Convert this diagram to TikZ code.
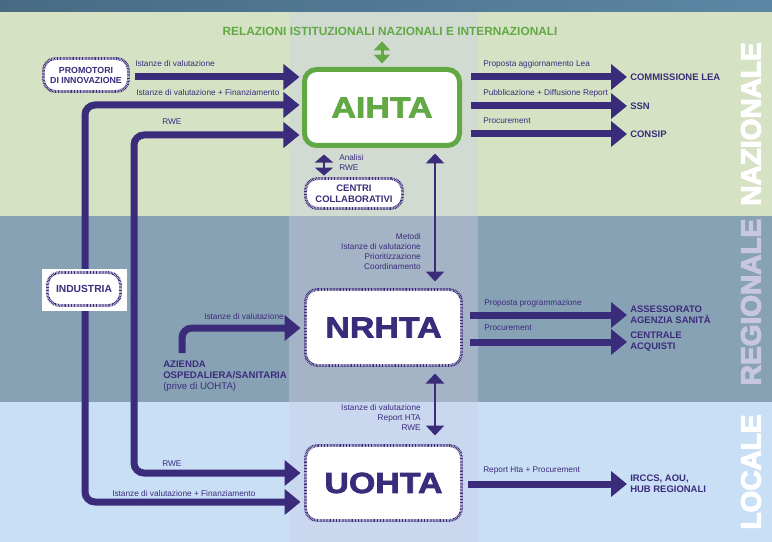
\documentclass[tikz,border=0pt]{standalone}
\usepackage{fontspec}
\setmainfont{Liberation Sans}
\newfontfamily\widefont[FakeStretch=1.17, FakeBold=2.5]{Liberation Sans}
\newfontfamily\heavyfont[FakeBold=4]{Liberation Sans}
\usetikzlibrary{arrows.meta}
\definecolor{pur}{RGB}{59,43,123}
\definecolor{grn}{RGB}{98,168,69}
\definecolor{topL}{RGB}{72,107,131}
\definecolor{topR}{RGB}{91,135,164}
\definecolor{nazB}{RGB}{213,227,196}
\definecolor{nazC}{RGB}{210,219,210}
\definecolor{regB}{RGB}{136,162,181}
\definecolor{regC}{RGB}{164,179,198}
\definecolor{locB}{RGB}{200,223,245}
\definecolor{locC}{RGB}{202,216,239}
\definecolor{regT}{RGB}{200,198,224}
\begin{document}
\begin{tikzpicture}[x=0.75pt,y=-0.75pt,
  small/.style={font=\fontsize{6.2pt}{7.5pt}\selectfont, text=pur, inner sep=0pt},
  tgt/.style={font=\bfseries\fontsize{7.1pt}{8.25pt}\selectfont, text=pur, align=left, anchor=west, inner sep=0pt},
  dotbox/.style={draw=pur, line width=2.2pt, dash pattern=on 0.55pt off 0.55pt, fill=white, rounded corners=9pt, inner sep=0pt, text=pur, align=center},
  bigtext/.style={font=\widefont\bfseries\fontsize{21.75pt}{24pt}\selectfont},
  bigarrow/.style={draw=pur, line width=5.25pt, -{Triangle[width=18.75pt,length=12pt]}},
  dbl/.style={draw=pur, line width=2.1pt, {Triangle[width=13.5pt,length=7.5pt]}-{Triangle[width=13.5pt,length=7.5pt]}},
  grndbl/.style={draw=grn, line width=2.25pt, {Triangle[width=12pt,length=6.75pt]}-{Triangle[width=12pt,length=6.75pt]}},
  sidelab/.style={rotate=90, font=\heavyfont\bfseries\fontsize{21pt}{21pt}\selectfont, inner sep=0pt}
]
\useasboundingbox (0,0) rectangle (772,542);
% bands
\fill[left color=topL,right color=topR] (0,0) rectangle (772,12);
\fill[nazB] (0,12) rectangle (772,216);
\fill[regB] (0,216) rectangle (772,402);
\fill[locB] (0,402) rectangle (772,542);
\fill[nazC] (289,12) rectangle (478,216);
\fill[regC] (289,216) rectangle (478,402);
\fill[locC] (289,402) rectangle (478,542);

% side labels
\node[sidelab, text=white] (naz) at (751,124) {NAZIONALE};
\node[sidelab, text=regT] (reg) at (751,302) {REGIONALE};
\node[sidelab, text=white] (loc) at (751,472) {LOCALE};

% title
\node[anchor=base, font=\bfseries\fontsize{8.9pt}{10pt}\selectfont, text=grn, inner sep=0pt] (title) at (390,36) {RELAZIONI ISTITUZIONALI NAZIONALI E INTERNAZIONALI};

% main boxes
\node[draw=grn, line width=3.75pt, rounded corners=9pt, fill=white, minimum width=116.25pt, minimum height=57pt, inner sep=0pt, text=grn, bigtext] (aihta) at (382,107.5) {AIHTA};
\node[dotbox, minimum width=117pt, minimum height=57pt, bigtext] (nrhta) at (383.5,327.5) {NRHTA};
\node[dotbox, minimum width=117pt, minimum height=56.25pt, bigtext] (uohta) at (383.5,483) {UOHTA};

% small boxes
\node[dotbox, minimum width=63.75pt, minimum height=24.75pt, font=\bfseries\fontsize{6.6pt}{7.5pt}\selectfont] (promo) at (86,75) {PROMOTORI\\DI INNOVAZIONE};
\node[dotbox, minimum width=72.75pt, minimum height=22.5pt, font=\bfseries\fontsize{7.1pt}{8pt}\selectfont] (centri) at (354,193.5) {CENTRI\\COLLABORATIVI};

% targets
\node[tgt] (lea) at (630,77) {COMMISSIONE LEA};
\node[tgt] (ssn) at (630,106) {SSN};
\node[tgt] (consip) at (630,134) {CONSIP};
\node[tgt] (assess) at (630,315) {ASSESSORATO\\AGENZIA SANITÀ};
\node[tgt] (centrale) at (630,342) {CENTRALE\\ACQUISTI};
\node[tgt] (irccs) at (630,484) {IRCCS, AOU,\\HUB REGIONALI};

% azienda
\node[anchor=north west, inner sep=0pt, align=left, text=pur, font=\fontsize{7.2pt}{8.25pt}\selectfont] (azienda) at (163,361) {\textbf{AZIENDA}\\\textbf{OSPEDALIERA/SANITARIA}\\(prive di UOHTA)};
\coordinate (az) at (182,353);

% left network coordinates
\coordinate (indc) at (85,290);
\coordinate (rwe) at (134,300);

% left arrows
\draw[bigarrow, shorten <=3.4pt, shorten >=1.9pt] (promo.east |- 0,77) -- (aihta.west |- 0,77);
\draw[bigarrow, rounded corners=7.5pt, shorten >=1.9pt] (indc) |- (aihta.west |- 0,105);
\draw[bigarrow, rounded corners=7.5pt, shorten >=2.6pt] (indc) |- (uohta.west |- 0,502);
\draw[bigarrow, rounded corners=7.5pt, shorten >=1.9pt] (rwe) |- (aihta.west |- 0,135);
\draw[bigarrow, rounded corners=7.5pt, shorten >=2.6pt] (rwe) |- (uohta.west |- 0,473);
\draw[bigarrow, rounded corners=7.5pt, shorten >=2.6pt] (az) |- (nrhta.west |- 0,328);

% industria
\node[fill=white, minimum width=63.75pt, minimum height=31.5pt, inner sep=0pt] (indbg) at (84.5,290) {};
\node[dotbox, minimum width=54.75pt, minimum height=24.75pt, font=\bfseries\fontsize{7.7pt}{8.5pt}\selectfont] (industria) at (84,289) {INDUSTRIA};

% right arrows
\draw[bigarrow, shorten <=6.4pt, shorten >=2.25pt] (aihta.east |- lea.west) -- (lea.west);
\draw[bigarrow, shorten <=6.4pt, shorten >=2.25pt] (aihta.east |- ssn.west) -- (ssn.west);
\draw[bigarrow, shorten <=6.4pt, shorten >=2.25pt] (aihta.east |- consip.west) -- (consip.west);
\draw[bigarrow, shorten <=4.9pt, shorten >=2.25pt] (nrhta.east |- assess.west) -- (assess.west);
\draw[bigarrow, shorten <=4.9pt, shorten >=2.25pt] (nrhta.east |- centrale.west) -- (centrale.west);
\draw[bigarrow, shorten <=4.1pt, shorten >=2.25pt] (uohta.east |- irccs.west) -- (irccs.west);

% vertical double arrows
\draw[grndbl, shorten <=3.75pt, shorten >=2.6pt] (title.south -| aihta.north) -- (aihta.north);
\draw[dbl, {Triangle[width=13.5pt,length=6pt]}-{Triangle[width=13.5pt,length=6pt]}, shorten <=4.9pt, shorten >=1.1pt] (aihta.south -| 324,0) -- (centri.north -| 324,0);
\draw[dbl, shorten <=4.1pt, shorten >=4.9pt] (aihta.south -| 435,0) -- (nrhta.north -| 435,0);
\draw[dbl, shorten <=4.9pt, shorten >=6.4pt] (nrhta.south -| 435,0) -- (uohta.north -| 435,0);

% labels left
\node[small, anchor=base west] (la1) at (135,66.5) {Istanze di valutazione};
\node[small, anchor=base west] (la2) at (136,95.5) {Istanze di valutazione + Finanziamento};
\node[small, anchor=base west] (la3) at (162,124.5) {RWE};
\node[small, anchor=base west] (la4) at (162,466.5) {RWE};
\node[small, anchor=base west] (la5) at (112,496) {Istanze di valutazione + Finanziamento};
\node[small, anchor=base west] (la6) at (204,319) {Istanze di valutazione};
% labels right
\node[small, anchor=base west] (lb1) at (483,66.5) {Proposta aggiornamento Lea};
\node[small, anchor=base west] (lb2) at (483,95.3) {Pubblicazione + Diffusione Report};
\node[small, anchor=base west] (lb3) at (483,124) {Procurement};
\node[small, anchor=base west] (lb4) at (484,305) {Proposta programmazione};
\node[small, anchor=base west] (lb5) at (484,330.5) {Procurement};
\node[small, anchor=base west] (lb6) at (483,472.5) {Report Hta + Procurement};
% labels center
\node[small, anchor=north west, align=left] (lc1) at (339,154.7) {Analisi\\RWE};
\node[small, anchor=north east, align=right] (lc2) at (421,233) {Metodi\\Istanze di valutazione\\Prioritizzazione\\Coordinamento};
\node[small, anchor=north east, align=right] (lc3) at (421,404.7) {Istanze di valutazione\\Report HTA\\RWE};
\end{tikzpicture}
\end{document}
